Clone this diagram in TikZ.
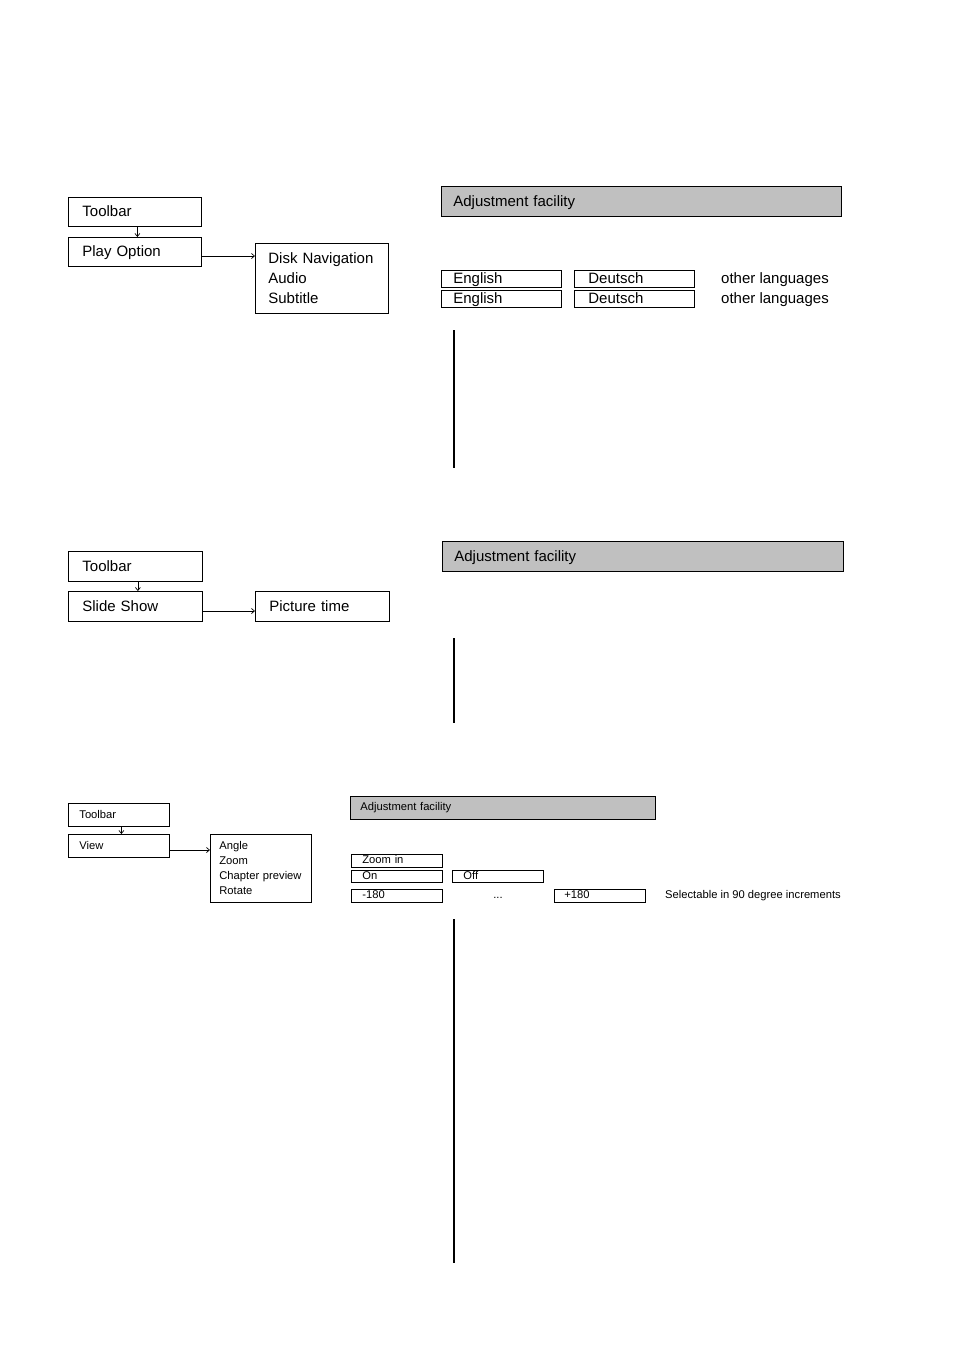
\documentclass[tikz,border=0pt]{standalone}
\usepackage{fontspec}
\setmainfont{Liberation Sans}
\usetikzlibrary{arrows.meta}
\definecolor{adjgray}{HTML}{C0C0C0}
\begin{document}
\begin{tikzpicture}[x=1pt,y=-1pt,
  box/.style={draw, line width=0.8pt, anchor=north west, inner ysep=0pt, align=left},
  big/.style={font=\fontsize{15}{20}\selectfont},
  mid/.style={font=\fontsize{11.2}{15}\selectfont},
  sml/.style={font=\fontsize{11.2}{12}\selectfont},
  oneb/.style={big, text height=13pt, text depth=3pt},
  ones/.style={sml, text height=8pt, text depth=2.2pt},
  onem/.style={mid, text height=8.5pt, text depth=2.2pt},
  adj/.style={box, fill=adjgray},
  conn/.style={line width=0.7pt, -{Straight Barb[length=3pt,width=5pt]}},
  vline/.style={line width=1.1pt}]
\useasboundingbox (0,0) rectangle (954,1350);

% ---------- Section 1 ----------
\node[box,oneb,minimum width=133,minimum height=29,inner xsep=14,text width=105] (tb1) at (68,197) {Toolbar};
\node[box,oneb,minimum width=133,minimum height=29,inner xsep=14,text width=105] (po) at (68,237) {Play Option};
\node[box,big,minimum width=133,minimum height=70,inner xsep=13,text width=107] (disk) at (255,243) {Disk Navigation\\Audio\\Subtitle};
\draw[conn] ([xshift=2.5]tb1.south) -- ([xshift=2.5]po.north);
\draw[conn] (po.east |- 0,256) coordinate (poE) -- (disk.west |- poE);

\node[adj,oneb,minimum width=400,minimum height=30,inner xsep=12,text width=376] (adj1) at (441,186) {Adjustment facility};
\node[box,oneb,minimum width=120,minimum height=17,inner xsep=12,text width=96] (en1) at (441,270) {English};
\node[box,oneb,minimum width=120,minimum height=17,inner xsep=12,text width=96] (en2) at (441,290) {English};
\node[box,oneb,minimum width=120,minimum height=17,inner xsep=14,text width=92] (de1) at (574,270) {Deutsch};
\node[box,oneb,minimum width=120,minimum height=17,inner xsep=14,text width=92] (de2) at (574,290) {Deutsch};
\node[oneb,anchor=west,inner sep=0] (ol1) at (721,278.5) {other languages};
\node[oneb,anchor=west,inner sep=0] (ol2) at (721,298.5) {other languages};
\coordinate (v1a) at (454,330);
\coordinate (v1b) at (454,468);
\draw[vline] (v1a) -- (v1b);

% ---------- Section 2 ----------
\node[box,oneb,minimum width=134,minimum height=30,inner xsep=14,text width=106] (tb2) at (68,551) {Toolbar};
\node[box,oneb,minimum width=134,minimum height=30,inner xsep=14,text width=106] (ss) at (68,591) {Slide Show};
\node[box,oneb,minimum width=134,minimum height=30,inner xsep=14,text width=106] (pt) at (255,591) {Picture time};
\draw[conn] ([xshift=2.5]tb2.south) -- ([xshift=2.5]ss.north);
\draw[conn] (ss.east |- 0,611) coordinate (ssE) -- (pt.west |- ssE);

\node[adj,oneb,minimum width=401,minimum height=30,inner xsep=12,text width=377] (adj2) at (442,541) {Adjustment facility};
\coordinate (v2a) at (454,638);
\coordinate (v2b) at (454,723);
\draw[vline] (v2a) -- (v2b);

% ---------- Section 3 ----------
\node[box,onem,minimum width=101,minimum height=23,inner xsep=11,text width=79] (tb3) at (68,803) {Toolbar};
\node[box,onem,minimum width=101,minimum height=23,inner xsep=11,text width=79] (vw) at (68,834) {View};
\node[box,mid,minimum width=101,minimum height=68,inner xsep=9,text width=83] (ang) at (210,834) {Angle\\Zoom\\\mbox{Chapter preview}\\Rotate};
\draw[conn] ([xshift=2.5]tb3.south) -- ([xshift=2.5]vw.north);
\draw[conn] (vw.east |- 0,850) coordinate (vwE) -- (ang.west |- vwE);

\node[adj,ones,minimum width=305,minimum height=23,inner xsep=10,text width=285] (adj3) at (350,796) {Adjustment facility};
\node[box,ones,minimum width=91,minimum height=13,inner xsep=11,text width=69] (zi) at (351,854) {Zoom in};
\node[box,ones,minimum width=91,minimum height=12,inner xsep=11,text width=69] (on) at (351,870) {On};
\node[box,ones,minimum width=91,minimum height=12,inner xsep=11,text width=69] (off) at (452,870) {Off};
\node[box,ones,minimum width=91,minimum height=13,inner xsep=11,text width=69] (m180) at (351,889) {-180};
\node[ones,anchor=center,inner sep=0] (dots) at (498,896) {...};
\node[box,ones,minimum width=91,minimum height=13,inner xsep=10,text width=71] (p180) at (554,889) {+180};
\node[ones,anchor=west,inner sep=0] (sel) at (665,895.5) {Selectable in 90 degree increments};
\coordinate (v3a) at (454,919);
\coordinate (v3b) at (454,1263);
\draw[vline] (v3a) -- (v3b);
\end{tikzpicture}
\end{document}
